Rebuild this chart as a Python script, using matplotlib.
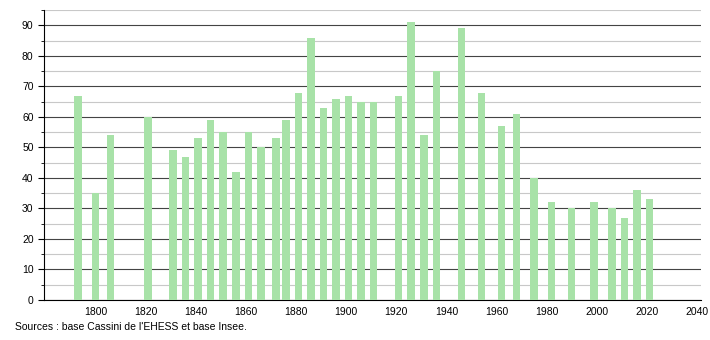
import matplotlib
matplotlib.use("Agg")
import matplotlib.pyplot as plt
from matplotlib.ticker import MultipleLocator

years = [1793, 1800, 1806, 1821, 1831, 1836, 1841, 1846, 1851, 1856, 1861, 1866,
         1872, 1876, 1881, 1886, 1891, 1896, 1901, 1906, 1911, 1921, 1926, 1931,
         1936, 1946, 1954, 1962, 1968, 1975, 1982, 1990, 1999, 2006, 2011, 2016, 2021]
population = [67, 35, 54, 60, 49, 47, 53, 59, 55, 42, 55, 50,
              53, 59, 68, 86, 63, 66, 67, 65, 65, 67, 91, 54,
              75, 89, 68, 57, 61, 40, 32, 30, 32, 30, 27, 36, 33]
x_ticks = [1800, 1820, 1840, 1860, 1880, 1900, 1920, 1940, 1960, 1980, 2000, 2020, 2040]
source_text = "Sources : base Cassini de l'EHESS et base Insee."

plt.rcParams['font.family'] = ['Liberation Sans', 'DejaVu Sans']
fig = plt.figure(figsize=(7.1, 3.4), dpi=100)
ax = fig.add_axes([0.062, 0.118, 0.925, 0.852])

ax.bar(years, population, width=3.0, color='#a8e2a8', zorder=3)

ax.set_xlim(1779.5, 2041.5)
ax.set_ylim(0, 95)
ax.set_xticks(x_ticks)
ax.yaxis.set_major_locator(MultipleLocator(10))
ax.yaxis.set_minor_locator(MultipleLocator(5))
ax.grid(axis='y', which='major', color='#444444', linewidth=0.8, zorder=1)
ax.grid(axis='y', which='minor', color='#c8c8c8', linewidth=0.8, zorder=1)
for s in ['top', 'right']:
    ax.spines[s].set_visible(False)
ax.spines['left'].set_color('black')
ax.spines['bottom'].set_color('black')
ax.tick_params(axis='x', length=0, labelsize=7.5, pad=5)
ax.tick_params(axis='y', which='major', length=4, labelsize=7.5)
ax.tick_params(axis='y', which='minor', length=2)

fig.text(0.021, 0.038, source_text, fontsize=7.5, ha='left', va='center')

fig.savefig("out.png", dpi=100, facecolor='white')
